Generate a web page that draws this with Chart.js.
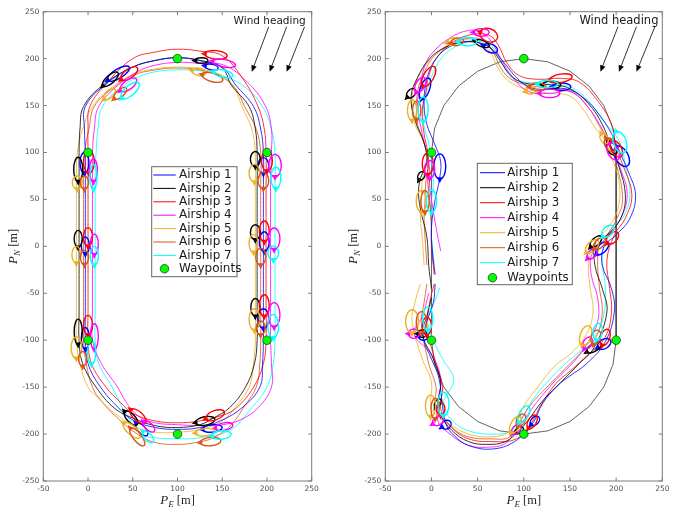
<!DOCTYPE html>
<html><head><meta charset="utf-8">
<script src="https://cdn.jsdelivr.net/npm/chart.js@4.4.1/dist/chart.umd.min.js"></script>
<style>
html,body{margin:0;padding:0;background:#fff;}
#wrap{position:relative;width:679px;height:509px;overflow:hidden;background:#fff;}
canvas{position:absolute;top:0;}
</style></head><body>
<div id="wrap"><canvas id="cLeft" width="340" height="509" style="left:0;width:340px;height:509px"></canvas><canvas id="cRight" width="339" height="509" style="left:340px;width:339px;height:509px"></canvas></div>
<script>
// ---------- data ----------
const xTickValues = [-50, 0, 50, 100, 150, 200, 250];
const yTickValues = [-250, -200, -150, -100, -50, 0, 50, 100, 150, 200, 250];
const airshipNames = ['Airship 1','Airship 2','Airship 3','Airship 4','Airship 5','Airship 6','Airship 7'];
const waypointLabel = 'Waypoints';
const windLabel = 'Wind heading';
const windTailX = [202, 222, 242];
const windTailY = [234, 234, 234];
const windHeadX = [183, 203, 222];
const windHeadY = [186, 186, 186];
const windTextPos = [203, 240];

const leftWaypoints = [[100,200],[0,100],[200,100],[0,-100],[200,-100],[100,-200]];
const rightWaypoints = [[100,200],[0,100],[0,-100],[200,-100],[100,-200]];

// left figure trajectories [PE, PN]
const leftPath1 = [[-3,-70],[-3,-30],[-3,10],[-3,50],[-3,80],[-3,100],[-4,125],[-3,149],[19,172],[50,191],[75,198],[100,201],[125,198],[150,191],[165,172],[185,149],[193,125],[196,100],[196,60],[196,20],[196,-20],[196,-60],[196,-100],[195,-125],[192,-150],[172,-172],[150,-185],[125,-193],[100,-195],[75,-193],[50,-185],[34,-172],[14,-150],[0,-125],[-3,-100],[-3,-70]];
const leftPath2 = [[-10,-70],[-10,-30],[-10,10],[-10,50],[-10,80],[-10,100],[-9,125],[-5,149],[17,172],[50,191],[75,198],[100,201],[125,198],[150,190],[160,172],[180,149],[187,125],[189,100],[189,60],[189,20],[189,-20],[189,-60],[189,-100],[186,-125],[176,-150],[158,-172],[140,-183],[125,-190],[100,-193],[75,-191],[50,-183],[29,-172],[9,-150],[-6,-125],[-10,-100],[-10,-70]];
const leftPath3 = [[0,-70],[0,-30],[0,10],[0,50],[0,80],[0,100],[0,125],[2,149],[22,175],[50,200],[75,207],[100,210],[125,208],[150,203],[172,180],[190,149],[197,125],[199,100],[199,60],[199,20],[199,-20],[199,-60],[199,-100],[196,-125],[185,-150],[166,-172],[150,-180],[125,-186],[100,-188],[75,-186],[50,-178],[36,-166],[20,-150],[4,-125],[0,-100],[0,-70]];
const leftPath4 = [[5,-70],[5,-30],[5,10],[5,50],[5,80],[5,100],[7,125],[12,149],[34,172],[55,186],[75,193],[100,196],[125,195],[152,193],[178,175],[198,150],[205,125],[205,100],[204,60],[204,20],[204,-20],[204,-60],[204,-100],[205,-125],[205,-150],[190,-172],[170,-185],[150,-190],[125,-191],[100,-190],[75,-188],[55,-180],[42,-165],[33,-150],[15,-125],[5,-100],[5,-70]];
const leftPath5 = [[-13,-70],[-13,-30],[-13,10],[-13,50],[-13,80],[-12,100],[-6,125],[5,149],[25,168],[50,183],[75,189],[100,191],[125,189],[150,182],[163,170],[172,149],[183,125],[187,100],[187,60],[187,20],[187,-20],[187,-60],[187,-100],[185,-125],[180,-150],[164,-172],[150,-186],[125,-195],[100,-198],[75,-198],[55,-193],[30,-178],[12,-162],[0,-150],[-9,-125],[-13,-100],[-13,-70]];
const leftPath6 = [[-5,-70],[-5,-30],[-5,10],[-5,50],[-5,80],[-4,100],[1,125],[7,149],[27,168],[50,182],[75,188],[100,190],[125,188],[150,180],[165,168],[175,149],[188,125],[193,100],[193,60],[193,20],[193,-20],[193,-60],[193,-100],[192,-125],[188,-150],[175,-170],[160,-190],[140,-204],[120,-209],[100,-211],[75,-209],[55,-200],[32,-182],[15,-165],[5,-150],[-2,-125],[-5,-100],[-5,-70]];
const leftPath7 = [[8,-70],[8,-30],[8,10],[8,50],[8,80],[9,100],[11,125],[16,149],[35,168],[55,180],[75,186],[100,188],[125,187],[150,182],[175,170],[195,149],[205,125],[209,100],[209,60],[209,20],[209,-20],[209,-60],[209,-100],[207,-125],[200,-150],[183,-172],[160,-195],[125,-204],[100,-205],[75,-204],[60,-200],[42,-178],[27,-150],[12,-125],[8,-100],[8,-70]];

// loops: [centre PE, centre PN, length, width, heading deg]
const leftLoops1 = [[34,184,28,10,30],[138,191,15,6,-10],[196,86,17,12,90],[197,5,21,11,90],[196,-77,21,12,90],[139,-194,22,8,5],[60,-195,18,8,-45],[-3,-98,23,9,90],[-3,1,18,9,90],[-4,89,22,10,90]];
const leftLoops2 = [[25,178,22,9,40],[127,198,14,6,0],[187,93,16,11,90],[187,15,16,11,90],[187,-65,19,10,90],[131,-186,22,9,10],[48,-183,20,9,-45],[-11,-91,27,9,90],[-11,8,18,9,90],[-11,82,26,10,90]];
const leftLoops3 = [[46,184,22,10,35],[143,204,25,9,-5],[200,91,22,12,90],[197,16,22,11,90],[197,-63,23,11,90],[142,-180,22,10,20],[56,-181,22,10,-40],[0,-84,21,10,90],[0,10,20,10,90],[1,90,24,12,90]];
const leftLoops4 = [[45,172,22,10,35],[152,195,26,8,-10],[209,86,24,14,90],[208,8,23,13,90],[208,-73,26,13,90],[152,-192,20,8,10],[68,-192,16,8,-40],[7,-96,27,9,90],[7,2,22,9,90],[6,81,24,9,90]];
const leftLoops5 = [[24,162,16,8,40],[124,186,16,8,-10],[186,78,19,12,90],[185,3,19,10,90],[186,-78,23,12,90],[131,-198,22,8,5],[49,-196,24,10,-40],[-13,-108,23,12,90],[-13,-9,18,10,90],[-12,68,14,11,90]];
const leftLoops6 = [[36,163,18,8,40],[139,180,24,9,-15],[196,70,17,12,90],[193,-11,18,11,90],[193,-87,15,10,90],[137,-208,23,9,5],[55,-203,24,9,-50],[-6,-120,16,9,90],[-4,-12,15,9,90],[-4,68,14,9,90]];
const leftLoops7 = [[47,166,25,11,40],[151,184,22,8,-10],[210,73,23,11,90],[207,-7,15,12,90],[207,-85,25,12,90],[149,-201,22,9,5],[67,-203,16,8,-45],[4,-113,25,9,90],[7,-10,20,9,90],[6,74,26,8,90]];

// right figure trajectories
const rightPath1 = [[4,-30],[1,-5],[0,20],[4,50],[8,68],[10,90],[3,110],[-5,130],[-8,150],[-7,168],[-3,185],[5,200],[20,213],[40,218],[60,214],[70,206],[80,194],[92,180],[105,170],[125,167],[145,168],[165,158],[182,140],[195,120],[205,98],[213,80],[221,55],[215,30],[200,12],[187,0],[185,-20],[195,-45],[198,-70],[188,-102],[168,-125],[150,-138],[136,-149],[120,-168],[110,-188],[90,-208],[65,-216],[40,-212],[25,-202],[16,-190],[12,-170],[8,-140],[0,-120],[-9,-97],[-5,-80],[2,-60],[4,-40]];
const rightPath2 = [[0,-45],[-3,-20],[-5,10],[-12,40],[-14,60],[-11,75],[-5,90],[-8,110],[-18,135],[-22,160],[-15,180],[-2,200],[15,212],[35,218],[55,216],[65,210],[75,197],[85,183],[100,174],[130,172],[150,168],[170,152],[185,130],[195,105],[203,85],[210,55],[205,30],[190,12],[178,5],[177,-20],[185,-45],[190,-70],[176,-108],[160,-125],[140,-145],[120,-165],[105,-185],[95,-196],[80,-208],[60,-211],[40,-208],[22,-196],[10,-180],[7,-167],[10,-145],[2,-120],[-10,-93],[-5,-75],[0,-55]];
const rightPath3 = [[3,-30],[0,0],[0,20],[-2,50],[-4,70],[-4,88],[-4,100],[-8,120],[-10,145],[-6,165],[-3,181],[5,200],[20,215],[40,225],[62,225],[72,215],[82,195],[95,182],[115,178],[140,179],[160,175],[180,155],[195,130],[200,104],[208,85],[217,55],[210,30],[198,12],[190,-15],[193,-45],[195,-70],[188,-97],[170,-115],[150,-133],[135,-146],[118,-170],[109,-187],[92,-205],[65,-208],[40,-205],[22,-193],[10,-173],[12,-150],[5,-125],[-5,-85],[-2,-60],[3,-40]];
const rightPath4 = [[10,-5],[5,20],[0,50],[-2,65],[-2,82],[-5,100],[-10,120],[-15,150],[-12,172],[-8,190],[0,205],[20,222],[40,230],[54,228],[65,218],[75,200],[88,180],[105,165],[128,163],[150,165],[168,150],[182,130],[197,101],[205,82],[212,55],[205,30],[190,10],[174,-8],[173,-30],[180,-55],[180,-80],[169,-103],[155,-122],[135,-142],[115,-165],[100,-185],[92,-195],[80,-210],[60,-214],[40,-212],[20,-200],[7,-186],[8,-160],[10,-140],[0,-115],[-19,-93],[-10,-75],[-3,-50]];
const rightPath5 = [[-8,-20],[-10,10],[-12,30],[-11,48],[-10,70],[-5,90],[-8,110],[-18,130],[-21,145],[-20,165],[-12,185],[0,200],[23,218],[40,220],[55,215],[65,205],[72,190],[85,175],[108,166],[130,163],[150,160],[165,145],[178,125],[187,115],[195,95],[203,70],[203,45],[195,25],[174,0],[170,-20],[172,-45],[175,-70],[167,-95],[150,-115],[135,-126],[115,-150],[100,-170],[91,-190],[80,-200],[60,-203],[40,-200],[20,-190],[5,-180],[-1,-170],[0,-145],[-10,-120],[-21,-80],[-18,-60],[-12,-40]];
const rightPath6 = [[-5,-20],[-7,10],[-8,30],[-7,48],[-6,70],[-3,90],[-8,110],[-15,130],[-16,145],[-15,165],[-8,185],[5,205],[28,218],[45,222],[58,218],[68,205],[75,190],[88,177],[115,170],[135,168],[155,163],[170,148],[182,128],[193,108],[200,88],[207,50],[200,28],[190,12],[182,3],[180,-20],[182,-45],[185,-70],[178,-97],[160,-115],[145,-130],[125,-150],[108,-168],[97,-185],[85,-203],[63,-205],[40,-203],[22,-193],[4,-173],[5,-150],[-3,-125],[-11,-81],[-8,-60],[-5,-40]];
const rightPath7 = [[3,-20],[0,10],[0,30],[0,48],[2,68],[0,90],[-3,110],[-8,128],[-9,146],[-5,165],[2,185],[15,205],[39,218],[55,218],[68,210],[78,192],[90,178],[126,173],[150,170],[170,155],[185,135],[204,111],[210,85],[215,55],[207,30],[195,20],[185,-10],[188,-40],[188,-65],[180,-91],[165,-108],[145,-125],[125,-145],[110,-163],[100,-179],[85,-197],[63,-200],[42,-197],[25,-188],[13,-168],[24,-142],[12,-120],[2,-100],[-4,-77],[3,-60],[9,-44]];

const rightLoops1 = [[-7,168,24,10,70],[64,211,16,9,-20],[141,170,20,8,0],[206,96,24,14,-60],[185,-2,18,9,45],[187,-104,16,10,30],[112,-186,12,8,45],[16,-190,11,9,30],[-9,-96,10,8,0],[9,85,27,13,90]];
const rightLoops2 = [[-22,163,12,8,45],[55,216,16,7,-20],[130,172,20,8,0],[195,105,16,10,-60],[178,5,16,8,45],[176,-108,18,8,30],[95,-196,10,6,30],[7,-167,10,6,60],[-10,-93,10,8,0],[-11,75,10,7,60]];
const rightLoops3 = [[-3,181,24,11,60],[62,225,20,14,-20],[140,179,25,9,10],[200,104,20,11,-60],[196,9,16,10,45],[188,-97,18,10,70],[109,-187,16,9,60],[10,-173,14,9,90],[-5,-85,19,10,90],[-4,88,23,12,90]];
const rightLoops4 = [[-12,172,18,10,60],[54,228,17,8,0],[128,163,22,9,0],[197,101,20,12,-60],[174,-8,14,8,45],[169,-103,14,9,60],[92,-195,12,8,45],[7,-186,13,9,30],[-19,-93,12,10,0],[-2,82,19,11,90]];
const rightLoops5 = [[-21,145,22,10,90],[23,218,12,8,10],[108,166,12,7,10],[187,115,12,8,-60],[174,0,18,10,45],[167,-95,22,12,70],[91,-190,20,10,60],[-1,-170,23,11,90],[-21,-80,25,14,90],[-11,48,23,11,90]];
const rightLoops6 = [[-16,145,20,9,90],[28,218,14,8,10],[115,170,18,8,0],[193,108,16,10,-60],[182,3,16,9,45],[178,-97,16,10,70],[97,-185,14,9,60],[4,-173,22,9,90],[-11,-81,23,11,90],[-7,48,23,9,90]];
const rightLoops7 = [[-9,146,26,11,90],[39,218,20,9,0],[126,173,22,8,0],[204,111,24,14,-70],[191,16,16,10,45],[180,-91,18,10,80],[100,-179,20,10,60],[13,-168,25,12,90],[-4,-77,25,11,90],[0,48,24,11,90]];

// reference path (right figure)
const refPath = [[0,100],[3.4,125.9],[13.4,150],[29.3,170.7],[50,186.6],[74.1,196.6],[100,200],[125.9,196.6],[150,186.6],[170.7,170.7],[186.6,150],[196.6,125.9],[200,100],[200,-100],[196.6,-125.9],[186.6,-150],[170.7,-170.7],[150,-186.6],[125.9,-196.6],[100,-200],[74.1,-196.6],[50,-186.6],[29.3,-170.7],[13.4,-150],[3.4,-125.9],[0,-100],[0,100]];

// ---------- style ----------
const airshipColors = ['#0000ff','#000000','#ff0000','#ff00ff','#edb120','#d95319','#00ffff'];
const FONT = "'DejaVu Sans', 'Liberation Sans', sans-serif";
const SERIF = "'Liberation Serif', 'DejaVu Serif', serif";

function drawLoops(chart, loops){
  const ctx = chart.ctx, xs = chart.scales.x, ys = chart.scales.y, ca = chart.chartArea;
  const sx = xs.getPixelForValue(1) - xs.getPixelForValue(0);
  const sy = ys.getPixelForValue(0) - ys.getPixelForValue(1);
  ctx.save();
  ctx.beginPath(); ctx.rect(ca.left, ca.top, ca.right-ca.left, ca.bottom-ca.top); ctx.clip();
  loops.forEach((list, i) => {
    ctx.strokeStyle = airshipColors[i];
    ctx.lineWidth = 1.4;
    list.forEach(([cx, cy, len, wid, ang]) => {
      const a = ang*Math.PI/180;
      const ux = Math.cos(a)*sx, uy = -Math.sin(a)*sy;
      const vx = -Math.sin(a)*sx, vy = -Math.cos(a)*sy;
      const rx = len/2*Math.hypot(ux,uy), ry = wid/2*Math.hypot(vx,vy);
      const rot = Math.atan2(uy, ux);
      const px = xs.getPixelForValue(cx), py = ys.getPixelForValue(cy);
      ctx.beginPath(); ctx.ellipse(px, py, rx, ry, rot, 0, Math.PI*2); ctx.stroke();
      const c = Math.cos(rot), s = Math.sin(rot);
      const ex = px - c*rx, ey = py - s*rx;
      ctx.beginPath();
      ctx.moveTo(ex - c*2.5, ey - s*2.5);
      ctx.lineTo(ex + c*1.2 - s*1.8, ey + s*1.2 + c*1.8);
      ctx.lineTo(ex + c*1.2 + s*1.8, ey + s*1.2 - c*1.8);
      ctx.closePath(); ctx.stroke();
    });
  });
  ctx.restore();
}

function drawAxisLabel(ctx, cx, cy, sub, rotate){
  ctx.save();
  ctx.translate(cx, cy);
  if (rotate) ctx.rotate(-Math.PI/2);
  const fMain = "italic 13px " + SERIF, fSub = "italic 9px " + SERIF, fRest = "12.5px " + SERIF;
  ctx.font = fMain; const w1 = ctx.measureText('P').width;
  ctx.font = fSub; const w2 = ctx.measureText(sub).width;
  ctx.font = fRest; const w3 = ctx.measureText(' [m]').width;
  let x = -(w1+w2+w3)/2;
  ctx.textBaseline = 'alphabetic'; ctx.fillStyle = '#262626';
  ctx.font = fMain; ctx.fillText('P', x, 0); x += w1;
  ctx.font = fSub; ctx.fillText(sub, x, 3); x += w2;
  ctx.font = fRest; ctx.fillText(' [m]', x, 0);
  ctx.restore();
}

const decoPlugin = {
  id: 'deco',
  beforeDatasetDraw(chart, args, o){ if (args.index === 0) drawLoops(chart, o.loops); },
  afterDraw(chart, args, o){
    const ctx = chart.ctx, xs = chart.scales.x, ys = chart.scales.y, ca = chart.chartArea;
    ctx.save();
    ctx.strokeStyle = '#7a7a7a'; ctx.lineWidth = 1;
    ctx.strokeRect(ca.left, ca.top, ca.right-ca.left, ca.bottom-ca.top);
    ctx.beginPath();
    xTickValues.forEach(v => { const p = xs.getPixelForValue(v);
      ctx.moveTo(p, ca.bottom); ctx.lineTo(p, ca.bottom-3.5);
      ctx.moveTo(p, ca.top); ctx.lineTo(p, ca.top+3.5); });
    yTickValues.forEach(v => { const p = ys.getPixelForValue(v);
      ctx.moveTo(ca.left, p); ctx.lineTo(ca.left+3.5, p);
      ctx.moveTo(ca.right, p); ctx.lineTo(ca.right-3.5, p); });
    ctx.stroke();
    ctx.strokeStyle = '#000'; ctx.fillStyle = '#000'; ctx.lineWidth = 0.8;
    windTailX.forEach((tx, i) => {
      const x0 = xs.getPixelForValue(tx), y0 = ys.getPixelForValue(windTailY[i]);
      const x1 = xs.getPixelForValue(windHeadX[i]), y1 = ys.getPixelForValue(windHeadY[i]);
      const ang = Math.atan2(y1-y0, x1-x0), c = Math.cos(ang), s = Math.sin(ang);
      ctx.beginPath(); ctx.moveTo(x0, y0); ctx.lineTo(x1 - c*4, y1 - s*4); ctx.stroke();
      ctx.beginPath(); ctx.moveTo(x1, y1);
      ctx.lineTo(x1 - c*6.5 - s*2.8, y1 - s*6.5 + c*2.8);
      ctx.lineTo(x1 - c*6.5 + s*2.8, y1 - s*6.5 - c*2.8);
      ctx.closePath(); ctx.fill();
    });
    ctx.font = o.windFont + "px " + FONT; ctx.fillStyle = '#1a1a1a';
    ctx.textAlign = 'center'; ctx.textBaseline = 'middle';
    ctx.fillText(windLabel, xs.getPixelForValue(windTextPos[0]), ys.getPixelForValue(windTextPos[1]));
    const L = o.legend;
    ctx.fillStyle = '#fff'; ctx.fillRect(L.x0, L.y0, L.x1-L.x0, L.y1-L.y0);
    ctx.strokeStyle = '#666'; ctx.lineWidth = 1;
    ctx.strokeRect(L.x0, L.y0, L.x1-L.x0, L.y1-L.y0);
    ctx.font = L.font + "px " + FONT; ctx.textAlign = 'left'; ctx.textBaseline = 'middle';
    airshipNames.forEach((n, i) => {
      const y = L.row0 + i*L.step;
      ctx.strokeStyle = airshipColors[i]; ctx.lineWidth = 1;
      ctx.beginPath(); ctx.moveTo(L.lx0, y); ctx.lineTo(L.lx1, y); ctx.stroke();
      ctx.fillStyle = '#1a1a1a'; ctx.fillText(n, L.tx, y);
    });
    const wy = L.row0 + 7*L.step;
    ctx.beginPath(); ctx.arc((L.lx0+L.lx1)/2, wy, 4.3, 0, Math.PI*2);
    ctx.fillStyle = '#00ff00'; ctx.fill(); ctx.strokeStyle = '#222'; ctx.lineWidth = 0.7; ctx.stroke();
    ctx.fillStyle = '#1a1a1a'; ctx.fillText(waypointLabel, L.tx, wy);
    ctx.restore();
    drawAxisLabel(ctx, (ca.left+ca.right)/2, 504, 'E', false);
    drawAxisLabel(ctx, 17, (ca.top+ca.bottom)/2, 'N', true);
  }
};

function buildDatasets(paths, waypoints, ref){
  const ds = [{label: waypointLabel, data: waypoints, showLine: false, pointRadius: 4.3,
    pointBackgroundColor: '#00ff00', pointBorderColor: '#222', pointBorderWidth: 0.7}];
  paths.forEach((p, i) => ds.push({label: airshipNames[i], data: p, showLine: true,
    borderColor: airshipColors[i], borderWidth: 0.8, pointRadius: 0, tension: 0.4, fill: false}));
  if (ref) ds.push({label: 'reference', data: ref, showLine: true, borderColor: '#3a3a3a',
    borderWidth: 0.8, pointRadius: 0, tension: 0, fill: false});
  return ds;
}

function makeOptions(cfg){
  const tickFont = {family: FONT, size: 7.5};
  return {
    responsive: false, animation: false, events: [],
    layout: {padding: {left: 0, top: 11.7, right: cfg.padRight, bottom: 0}},
    plugins: {legend: {display: false}, tooltip: {enabled: false},
      deco: {loops: cfg.loops, legend: cfg.legend, windFont: cfg.windFont}},
    scales: {
      x: {type: 'linear', min: -50, max: 250,
        grid: {display: false, drawTicks: false}, border: {display: false},
        afterBuildTicks: s => { s.ticks = xTickValues.map(v => ({value: v})); },
        ticks: {padding: 4, color: '#4d4d4d', font: tickFont, maxRotation: 0, autoSkip: false},
        afterFit: s => { s.height = 28; }},
      y: {type: 'linear', min: -250, max: 250,
        grid: {display: false, drawTicks: false}, border: {display: false},
        afterBuildTicks: s => { s.ticks = yTickValues.map(v => ({value: v})); },
        ticks: {padding: 4, color: '#4d4d4d', font: tickFont, autoSkip: false},
        afterFit: s => { s.width = cfg.yWidth; }}
    }
  };
}

new Chart(document.getElementById('cLeft'), {
  type: 'scatter',
  data: {datasets: buildDatasets([leftPath1,leftPath2,leftPath3,leftPath4,leftPath5,leftPath6,leftPath7], leftWaypoints, null)},
  options: makeOptions({padRight: 28.3, yWidth: 43.3, windFont: 10.5,
    loops: [leftLoops1,leftLoops2,leftLoops3,leftLoops4,leftLoops5,leftLoops6,leftLoops7],
    legend: {x0: 151.7, y0: 166.7, x1: 237, y1: 276.7, row0: 175, step: 13.4, lx0: 153.3, lx1: 175.7, tx: 179, font: 12}}),
  plugins: [decoPlugin]
});

new Chart(document.getElementById('cRight'), {
  type: 'scatter',
  data: {datasets: buildDatasets([rightPath1,rightPath2,rightPath3,rightPath4,rightPath5,rightPath6,rightPath7], rightWaypoints, refPath)},
  options: makeOptions({padRight: 16.7, yWidth: 45.3, windFont: 11.5,
    loops: [rightLoops1,rightLoops2,rightLoops3,rightLoops4,rightLoops5,rightLoops6,rightLoops7],
    legend: {x0: 137.3, y0: 163.3, x1: 232.3, y1: 284.7, row0: 172.7, step: 15, lx0: 140, lx1: 165, tx: 167.3, font: 11.8}}),
  plugins: [decoPlugin]
});
</script></body></html>
